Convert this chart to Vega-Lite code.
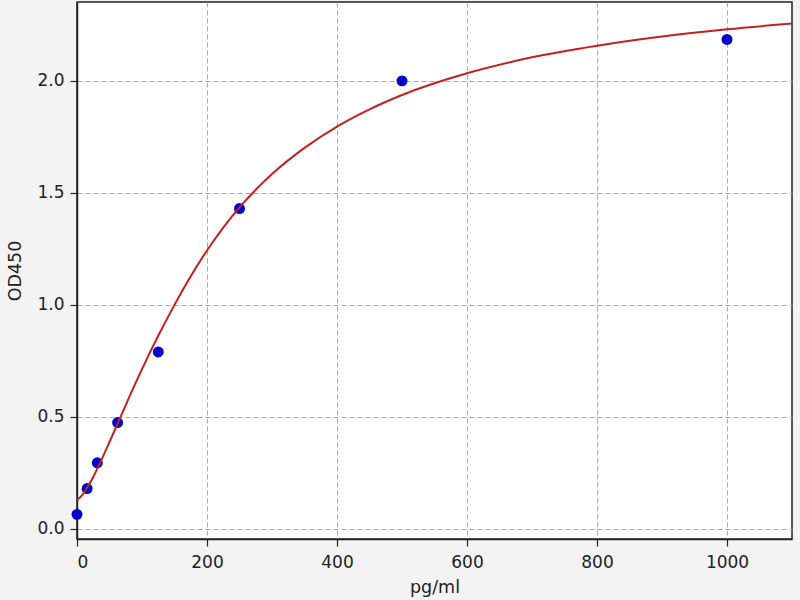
{
  "$schema": "https://vega.github.io/schema/vega-lite/v6.json",
  "autosize": {"type": "none"},
  "padding": {"left": 77, "top": 2, "right": 8, "bottom": 61},
  "width": 715,
  "height": 537,
  "background": "#f3f3f3",
  "config": {
    "view": {"fill": "white", "stroke": "#222222", "strokeWidth": 1.5},
    "font": "DejaVu Sans",
    "axis": {
      "labelFont": "DejaVu Sans",
      "labelFontSize": 17,
      "labelColor": "#222222",
      "titleFont": "DejaVu Sans",
      "titleFontSize": 17.5,
      "titleFontWeight": "normal",
      "titleColor": "#222222",
      "domainColor": "#222222",
      "domainWidth": 1.5,
      "tickColor": "#222222",
      "tickSize": 7,
      "tickWidth": 1.2,
      "grid": true,
      "gridColor": "#aaaaaa",
      "gridDash": [5, 3],
      "gridWidth": 1
    }
  },
  "datasets": {
    "points": [
      {"conc": 0, "od": 0.065},
      {"conc": 15.6, "od": 0.18},
      {"conc": 31.25, "od": 0.295},
      {"conc": 62.5, "od": 0.475},
      {"conc": 125, "od": 0.79},
      {"conc": 250, "od": 1.43},
      {"conc": 500, "od": 2.0},
      {"conc": 1000, "od": 2.185}
    ],
    "curve": [
      {"conc": 0, "od": 0.13},
      {"conc": 5, "od": 0.141},
      {"conc": 10, "od": 0.159},
      {"conc": 15.6, "od": 0.184},
      {"conc": 25, "od": 0.232},
      {"conc": 35, "od": 0.292},
      {"conc": 50, "od": 0.388},
      {"conc": 62.5, "od": 0.47},
      {"conc": 75, "od": 0.553},
      {"conc": 100, "od": 0.713},
      {"conc": 125, "od": 0.862},
      {"conc": 150, "od": 1.0},
      {"conc": 175, "od": 1.128},
      {"conc": 200, "od": 1.243},
      {"conc": 225, "od": 1.345},
      {"conc": 250, "od": 1.435},
      {"conc": 300, "od": 1.584},
      {"conc": 350, "od": 1.701},
      {"conc": 400, "od": 1.796},
      {"conc": 450, "od": 1.873},
      {"conc": 500, "od": 1.937},
      {"conc": 600, "od": 2.034},
      {"conc": 700, "od": 2.105},
      {"conc": 800, "od": 2.157},
      {"conc": 900, "od": 2.198},
      {"conc": 1000, "od": 2.23},
      {"conc": 1100, "od": 2.256}
    ]
  },
  "layer": [
    {
      "data": {"name": "points"},
      "mark": {"type": "point", "filled": true, "shape": "circle", "size": 120, "color": "#0000cc", "opacity": 1, "clip": false},
      "encoding": {
        "x": {
          "field": "conc", "type": "quantitative",
          "scale": {"domain": [0, 1100], "nice": false, "zero": false},
          "axis": {"values": [0, 200, 400, 600, 800, 1000], "format": "d", "title": "pg/ml", "titlePadding": 8, "labelPadding": 8}
        },
        "y": {
          "field": "od", "type": "quantitative",
          "scale": {"domain": [-0.045, 2.352], "nice": false, "zero": false},
          "axis": {"values": [0, 0.5, 1, 1.5, 2], "format": ".1f", "title": "OD450", "titlePadding": 12, "labelPadding": 6}
        }
      }
    },
    {
      "data": {"name": "curve"},
      "mark": {"type": "line", "color": "#c42020", "strokeWidth": 2, "interpolate": "monotone", "clip": true},
      "encoding": {
        "x": {"field": "conc", "type": "quantitative"},
        "y": {"field": "od", "type": "quantitative"}
      }
    }
  ]
}
